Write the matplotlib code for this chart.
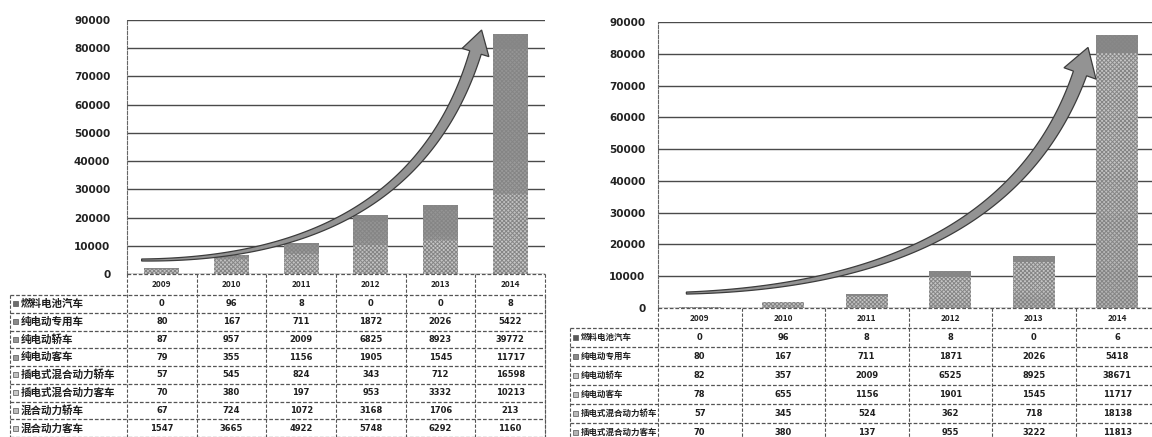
import matplotlib.pyplot as plt
import numpy as np
from matplotlib.patches import Polygon, Rectangle
from matplotlib.transforms import IdentityTransform

plt.rcParams['font.family'] = ['Noto Sans CJK SC', 'DejaVu Sans']
plt.rcParams['hatch.linewidth'] = 0.7

W, H = 1152, 437

years = ['2009', '2010', '2011', '2012', '2013', '2014']

# left chart: 8 vehicle types
left_names = ['燃料电池汽车', '纯电动专用车', '纯电动轿车', '纯电动客车',
              '插电式混合动力轿车', '插电式混合动力客车', '混合动力轿车', '混合动力客车']
left_fuelcell = [0, 96, 8, 0, 0, 8]
left_ev_special = [80, 167, 711, 1872, 2026, 5422]
left_ev_car = [87, 957, 2009, 6825, 8923, 39772]
left_ev_bus = [79, 355, 1156, 1905, 1545, 11717]
left_phev_car = [57, 545, 824, 343, 712, 16598]
left_phev_bus = [70, 380, 197, 953, 3332, 10213]
left_hev_car = [67, 724, 1072, 3168, 1706, 213]
left_hev_bus = [1547, 3665, 4922, 5748, 6292, 1160]

# right chart: 6 vehicle types
right_names = ['燃料电池汽车', '纯电动专用车', '纯电动轿车', '纯电动客车',
               '插电式混合动力轿车', '插电式混合动力客车']
right_fuelcell = [0, 96, 8, 8, 0, 6]
right_ev_special = [80, 167, 711, 1871, 2026, 5418]
right_ev_car = [82, 357, 2009, 6525, 8925, 38671]
right_ev_bus = [78, 655, 1156, 1901, 1545, 11717]
right_phev_car = [57, 345, 524, 362, 718, 18138]
right_phev_bus = [70, 380, 137, 955, 3222, 11813]

left_series = [left_fuelcell, left_ev_special, left_ev_car, left_ev_bus,
               left_phev_car, left_phev_bus, left_hev_car, left_hev_bus]
right_series = [right_fuelcell, right_ev_special, right_ev_car, right_ev_bus,
                right_phev_car, right_phev_bus]

left_colors = ['#6e6e6e', '#8a8a8a', '#959595', '#9c9c9c',
               '#c2c2c2', '#c8c8c8', '#bdbdbd', '#c4c4c4']
right_colors = ['#5a5a5a', '#8a8a8a', '#c6c6c6', '#c0c0c0', '#bababa', '#b4b4b4']


def box(l, t, r, b):
    # pixel box -> figure fraction rect
    return [l / W, 1 - b / H, (r - l) / W, (b - t) / H]


def curved_arrow(ax, p0, p1, p2, w0, w1, head_w, head_len):
    P = ax.transData.transform(np.array([p0, p1, p2], dtype=float))
    t = np.linspace(0, 1, 300)[:, None]
    pts = (1 - t) ** 2 * P[0] + 2 * t * (1 - t) * P[1] + t ** 2 * P[2]
    s = np.concatenate([[0], np.cumsum(np.hypot(*np.diff(pts, axis=0).T))])
    body = pts[s <= s[-1] - head_len]
    tan = np.gradient(body, axis=0)
    tan /= np.hypot(tan[:, 0], tan[:, 1])[:, None]
    nrm = np.column_stack([-tan[:, 1], tan[:, 0]])
    w = np.linspace(w0, w1, len(body))[:, None] / 2
    left = body + nrm * w
    right = body - nrm * w
    base, nb = body[-1], nrm[-1]
    head = np.array([base + nb * head_w / 2, P[2], base - nb * head_w / 2])
    poly = np.vstack([left, head, right[::-1]])
    ax.add_patch(Polygon(poly, closed=True, transform=IdentityTransform(),
                         facecolor='#939393', edgecolor='#3c3c3c', lw=0.9,
                         clip_on=False, zorder=5))


def panel(fig, l, r, top, zero, lab_l, hdr_h, row_h, names, series, colors,
          tick_pad, name_size, arrow):
    ax = fig.add_axes(box(l, top, r, zero))
    x = np.arange(len(years))
    bottom = np.zeros(len(years))
    for i in range(len(series) - 1, -1, -1):
        ax.bar(x, series[i], 0.5, bottom=bottom, color=colors[i],
               edgecolor='#858585', hatch='xxxxxxxx', linewidth=0, zorder=3)
        bottom += np.array(series[i])
    ax.set_xlim(-0.5, 5.5)
    ax.set_ylim(0, 90000)
    ax.set_yticks(np.arange(0, 90001, 10000))
    ax.set_yticklabels([str(v) for v in range(0, 90001, 10000)],
                       fontweight='bold', fontsize=7.5, family='DejaVu Sans')
    ax.tick_params(axis='y', length=0, pad=tick_pad, colors='#222222')
    ax.set_xticks([])
    ax.grid(axis='y', color='#4a4a4a', lw=1.0)
    ax.set_axisbelow(True)
    for sp in ['top', 'right', 'bottom']:
        ax.spines[sp].set_visible(False)
    ax.spines['left'].set_linestyle((0, (3, 1.5)))
    ax.spines['left'].set_color('#666666')
    curved_arrow(ax, *arrow)

    # data table below the plot, y in pixel units
    ppu = (r - l) / len(years)
    n = len(names)
    bot = zero + hdr_h + n * row_h
    tab = fig.add_axes(box(lab_l, zero, r, bot))
    x_lab = -0.5 - (l - lab_l) / ppu
    tab.set_xlim(x_lab, 5.5)
    tab.set_ylim(bot, zero)
    tab.axis('off')
    ls = (0, (3, 1.5))
    lc = '#555555'
    tab.hlines(zero, -0.5, 5.5, color=lc, lw=0.9, linestyle=ls, clip_on=False)
    row_y = zero + hdr_h + np.arange(n + 1) * row_h
    tab.hlines(row_y, x_lab, 5.5, color=lc, lw=0.9, linestyle=ls, clip_on=False)
    tab.vlines(np.arange(-0.5, 6, 1), zero, bot, color=lc, lw=0.8,
               linestyle=ls, clip_on=False)
    tab.vlines([x_lab, 5.5], zero + hdr_h, bot, color=lc, lw=0.8,
               linestyle=ls, clip_on=False)
    for j, yr in enumerate(years):
        tab.text(j, zero + hdr_h / 2, yr, ha='center', va='center',
                 fontsize=6, fontweight='bold', color='#222222')
    kx = (x_lab + 3 / ppu)
    for i, name in enumerate(names):
        yc = zero + hdr_h + (i + 0.5) * row_h
        tab.add_patch(Rectangle((kx, yc - 2.5), 5 / ppu, 5, facecolor=colors[i],
                                edgecolor='#555555', lw=0.5, clip_on=False))
        tab.text(kx + 8 / ppu, yc, name, ha='left', va='center',
                 fontsize=name_size, fontweight='bold', color='#1e1e1e')
        for j in range(len(years)):
            tab.text(j, yc, str(series[i][j]), ha='center', va='center',
                     fontsize=6, fontweight='bold', color='#1e1e1e',
                     family='DejaVu Sans')
    return ax


fig = plt.figure(figsize=(W / 100, H / 100), dpi=100)

panel(fig, 127, 545, 20, 274, 10, 21, 17.75, left_names, left_series,
      left_colors, 12, 7.6,
      ((-0.29, 4960), (3.8, 5000), (4.59, 86450), 2, 12, 28, 22))

panel(fig, 658, 1159, 22, 308, 570, 20, 19, right_names, right_series,
      right_colors, 9, 6.1,
      ((-0.16, 4700), (3.9, 8000), (4.65, 82000), 2, 14, 34, 26))

fig.savefig('out.png', dpi=100)
